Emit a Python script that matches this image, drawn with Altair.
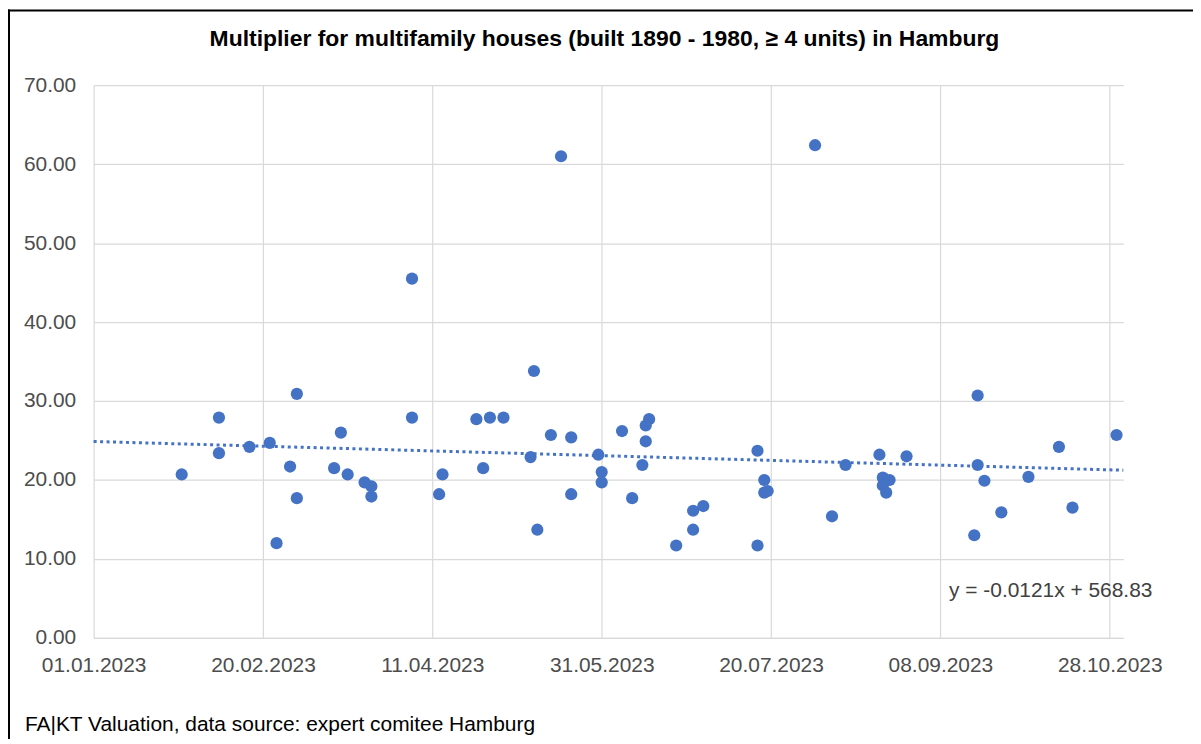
import altair as alt
import pandas as pd

# ---- data ----
dates = [
    "2023-01-27", "2023-02-07", "2023-02-07", "2023-02-16", "2023-02-22", "2023-03-02",
    "2023-02-28", "2023-03-02", "2023-02-24", "2023-03-15", "2023-03-13", "2023-03-17",
    "2023-03-22", "2023-03-24", "2023-03-24", "2023-04-05", "2023-04-05", "2023-04-14",
    "2023-04-13", "2023-05-11", "2023-04-24", "2023-04-28", "2023-05-02", "2023-04-26",
    "2023-05-16", "2023-05-22", "2023-05-10", "2023-05-22", "2023-05-12", "2023-05-19",
    "2023-05-30", "2023-05-31", "2023-05-31", "2023-06-06", "2023-06-14", "2023-06-13",
    "2023-06-13", "2023-06-12", "2023-06-09", "2023-06-22", "2023-06-27", "2023-06-27",
    "2023-06-30", "2023-07-16", "2023-07-18", "2023-07-18", "2023-07-19", "2023-07-16",
    "2023-08-02", "2023-08-11", "2023-08-07", "2023-08-21", "2023-08-29", "2023-08-22",
    "2023-08-24", "2023-08-22", "2023-08-23", "2023-09-19", "2023-09-19", "2023-09-21",
    "2023-09-18", "2023-09-26", "2023-10-04", "2023-10-13", "2023-10-17", "2023-10-30",
]
values = [
    20.7, 27.9, 23.4, 24.2, 24.7, 30.9,
    21.7, 17.7, 12.0, 26.0, 21.5, 20.7,
    19.7, 19.2, 17.9, 27.9, 45.5, 20.7,
    18.2, 33.8, 27.7, 27.9, 27.9, 21.5,
    25.7, 25.4, 22.9, 18.2, 13.7, 61.0,
    23.2, 21.0, 19.7, 26.2, 27.7, 26.9,
    24.9, 21.9, 17.7, 11.7, 13.7, 16.1,
    16.7, 23.7, 20.0, 18.4, 18.6, 11.7,
    62.4, 21.9, 15.4, 23.2, 23.0, 20.3,
    20.0, 19.3, 18.4, 30.7, 21.9, 19.9,
    13.0, 15.9, 20.4, 24.2, 16.5, 25.7,
]
tick_dates = ["2023-01-01", "2023-02-20", "2023-04-11", "2023-05-31",
              "2023-07-20", "2023-09-08", "2023-10-28"]
x_start = "2023-01-01"
x_end = "2023-11-01"
y_ticks = [0, 10, 20, 30, 40, 50, 60, 70]

title_text = "Multiplier for multifamily houses (built 1890 - 1980, \u2265 4 units) in Hamburg"
footer_text = "FA|KT Valuation, data source: expert comitee Hamburg"
equation_text = "y = -0.0121x + 568.83"

# ---- build ----
records = [{"date": d, "value": v} for d, v in zip(dates, values)]
data = alt.InlineData(values=records, format=alt.DataFormat(parse={"date": "date"}))

def ts(s):
    return alt.DateTime(year=int(s[:4]), month=int(s[5:7]), date=int(s[8:10]))

ms_start = int(pd.Timestamp(x_start).value // 10**6)
ms_end = int(pd.Timestamp(x_end).value // 10**6)

W, H = 1034, 555
BLUE = "#4472C4"
FONT = "Liberation Sans"
FS = 21

x_enc = alt.X(
    "date:T",
    scale=alt.Scale(domain=[ts(x_start), ts(x_end)], nice=False),
    axis=alt.Axis(
        values=[ts(t) for t in tick_dates], format="%d.%m.%Y", title=None,
        labelFontSize=FS, labelColor="#4d4d4d", labelFont=FONT, labelPadding=17,
        ticks=False, grid=True, gridColor="#d9d9d9", gridWidth=1.2,
        domain=True, domainColor="#d9d9d9", domainWidth=1.2, labelFlush=False,
        labelOverlap=False,
    ),
)
y_enc = alt.Y(
    "value:Q",
    scale=alt.Scale(domain=[0, 70], nice=False),
    axis=alt.Axis(
        values=y_ticks, format=".2f", title=None,
        labelFontSize=FS, labelColor="#4d4d4d", labelFont=FONT, labelPadding=18,
        ticks=False, grid=True, gridColor="#d9d9d9", gridWidth=1.2,
        domain=False,
    ),
)

points = alt.Chart(data).mark_point(
    filled=True, size=150, color=BLUE, opacity=1, shape="circle"
).encode(x=x_enc, y=y_enc)

trend = alt.Chart(data).transform_regression(
    "date", "value", extent=[ms_start, ms_end]
).mark_line(color=BLUE, strokeWidth=3, strokeDash=[3, 3.5]).encode(
    x=alt.X("date:T"), y=alt.Y("value:Q")
)

one = pd.DataFrame({"a": [0]})
title = alt.Chart(one).mark_text(
    text=title_text, align="center", baseline="middle", fontSize=23,
    font=FONT, fontWeight="bold", color="#000000"
).encode(x=alt.value(513), y=alt.value(-46))

equation = alt.Chart(one).mark_text(
    text=equation_text, align="left", baseline="middle", fontSize=FS,
    font=FONT, color="#404040"
).encode(x=alt.value(859), y=alt.value(508))

footer = alt.Chart(one).mark_text(
    text=footer_text, align="left", baseline="middle", fontSize=FS,
    font=FONT, color="#000000"
).encode(x=alt.value(-69), y=alt.value(643))

frame_left = alt.Chart(one).mark_rule(color="#000000", strokeWidth=2).encode(
    x=alt.value(-85), y=alt.value(-76), y2=alt.value(H + 110)
)
frame_top = alt.Chart(one).mark_rule(color="#000000", strokeWidth=2).encode(
    x=alt.value(-86), x2=alt.value(W + 80), y=alt.value(-75)
)

chart = alt.layer(trend, points, title, equation, footer, frame_left, frame_top).properties(
    width=W, height=H,
    autosize=alt.AutoSizeParams(type="none"),
    padding={"left": 86, "top": 76, "right": 70, "bottom": 100},
).configure_view(stroke=None)

chart.save("out.html", embed_options={"renderer": "svg", "actions": False})
